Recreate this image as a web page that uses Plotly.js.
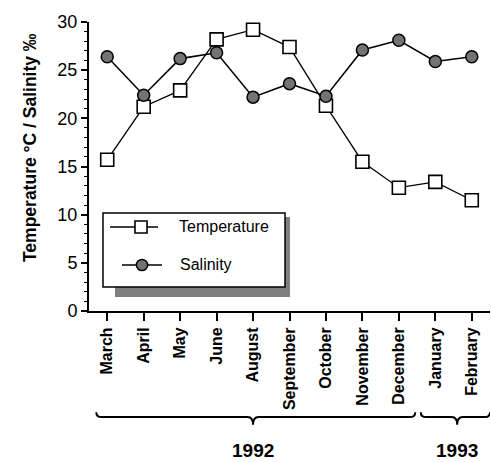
<!DOCTYPE html>
<html><head><meta charset="utf-8">
<script src="https://cdn.plot.ly/plotly-3.0.1.min.js"></script>
<style>body{margin:0;background:#fff}#chart{width:491px;height:462px}</style>
</head><body><div id="chart"></div>
<script>
const months = ["March","April","May","June","August","September","October","November","December","January","February"];
const temperature = [15.7, 21.2, 22.9, 28.2, 29.2, 27.4, 21.3, 15.5, 12.8, 13.4, 11.5];
const salinity = [26.4, 22.4, 26.2, 26.8, 22.2, 23.6, 22.3, 27.1, 28.1, 25.9, 26.4];
const yearLabels = ["1992", "1993"];
const seriesNames = ["Temperature", "Salinity"];

const F = '"Liberation Sans Narrow", "Arial Narrow", "Liberation Sans", Arial, sans-serif';
const xIdx = months.map((m,i)=>i);
const GREY = '#737373';

const traces = [
  {x: xIdx, y: temperature, name: seriesNames[0], mode: 'lines+markers', type: 'scatter',
   line: {color: '#000', width: 1.3},
   marker: {symbol: 'square', size: 13, color: '#fff', line: {color: '#000', width: 1.6}}},
  {x: xIdx, y: salinity, name: seriesNames[1], mode: 'lines+markers', type: 'scatter',
   line: {color: '#000', width: 1.6},
   marker: {symbol: 'circle', size: 12, color: GREY, line: {color: '#000', width: 1.5}}}
];

const P = {type: 'rect', xref: 'paper', yref: 'paper', layer: 'above'};
const layout = {
  width: 491, height: 462,
  margin: {l: 89, r: 1, t: 22, b: 151},
  paper_bgcolor: '#fff', plot_bgcolor: '#fff',
  font: {family: F, color: '#000', size: 14},
  showlegend: false,
  xaxis: {
    range: [-0.5, 10.5], tickmode: 'array', tickvals: xIdx, ticktext: months,
    showgrid: false, zeroline: false, showline: true, linecolor: '#000', linewidth: 2,
    ticks: 'outside', ticklen: 8, tickwidth: 1.5, tickcolor: '#000', tickson: 'boundaries',
    tickangle: -90, tickfont: {family: F, size: 16, color: '#000', weight: 'bold'}
  },
  yaxis: {
    range: [0, 30], tickmode: 'linear', tick0: 0, dtick: 5,
    showgrid: false, zeroline: false, showline: true, linecolor: '#000', linewidth: 2,
    ticks: 'outside', ticklen: 6, tickwidth: 1.5, tickcolor: '#000',
    minor: {dtick: 1, ticks: 'outside', ticklen: 3, tickcolor: '#000', tickwidth: 1},
    tickfont: {family: F, size: 18, color: '#000'}
  },
  shapes: [
    Object.assign({}, P, {x0: 0.0648, x1: 0.5012, y0: 0.0484, y1: 0.3253, fillcolor: '#7f7f7f', line: {width: 0}}),
    Object.assign({}, P, {x0: 0.0349, x1: 0.4888, y0: 0.0830, y1: 0.3391, fillcolor: '#fff', line: {color: '#000', width: 1.5}}),
    {type: 'line', xref: 'paper', yref: 'paper', x0: 0.0524, x1: 0.1721, y0: 0.2907, y1: 0.2907, line: {color: '#000', width: 1.3}, layer: 'above'},
    Object.assign({}, P, {x0: 0.1297-0.0150, x1: 0.1297+0.0150, y0: 0.2907-0.0208, y1: 0.2907+0.0208, fillcolor: '#fff', line: {color: '#000', width: 1.6}}),
    {type: 'line', xref: 'paper', yref: 'paper', x0: 0.0823, x1: 0.1820, y0: 0.1592, y1: 0.1592, line: {color: '#000', width: 1.6}, layer: 'above'},
    {type: 'circle', xref: 'paper', yref: 'paper', x0: 0.1322-0.0140, x1: 0.1322+0.0140, y0: 0.1592-0.0194, y1: 0.1592+0.0194, fillcolor: GREY, line: {color: '#000', width: 1.5}, layer: 'above'},
    {type: 'path', xref: 'x', yref: 'paper', line: {color: '#000', width: 2},
     path: 'M -0.3,-0.35 Q -0.3,-0.367 -0.15,-0.367 L 3.85,-0.367 Q 4.0,-0.367 4.0,-0.394 Q 4.0,-0.367 4.15,-0.367 L 8.3,-0.367 Q 8.45,-0.367 8.45,-0.35'},
    {type: 'path', xref: 'x', yref: 'paper', line: {color: '#000', width: 2},
     path: 'M 8.6,-0.35 Q 8.6,-0.367 8.75,-0.367 L 9.45,-0.367 Q 9.6,-0.367 9.6,-0.394 Q 9.6,-0.367 9.75,-0.367 L 10.35,-0.367 Q 10.5,-0.367 10.5,-0.35'}
  ],
  annotations: [
    {text: '<b>Temperature °C / Salinity ‰</b>', xref: 'paper', yref: 'paper', x: -0.177, y: 0.564,
     textangle: -90, showarrow: false, font: {family: F, size: 17.5, color: '#000'}},
    {text: seriesNames[0], xref: 'paper', yref: 'paper', x: 0.2195, y: 0.2907, xanchor: 'left', yanchor: 'middle',
     showarrow: false, font: {family: F, size: 16, color: '#000'}},
    {text: seriesNames[1], xref: 'paper', yref: 'paper', x: 0.2220, y: 0.1592, xanchor: 'left', yanchor: 'middle',
     showarrow: false, font: {family: F, size: 16, color: '#000'}},
    {text: '<b>' + yearLabels[0] + '</b>', xref: 'x', yref: 'paper', x: 4.0, y: -0.481, yanchor: 'middle',
     showarrow: false, font: {family: F, size: 19, color: '#000'}},
    {text: '<b>' + yearLabels[1] + '</b>', xref: 'x', yref: 'paper', x: 9.6, y: -0.481, yanchor: 'middle',
     showarrow: false, font: {family: F, size: 19, color: '#000'}}
  ]
};

Plotly.newPlot('chart', traces, layout, {displayModeBar: false});
</script></body></html>
